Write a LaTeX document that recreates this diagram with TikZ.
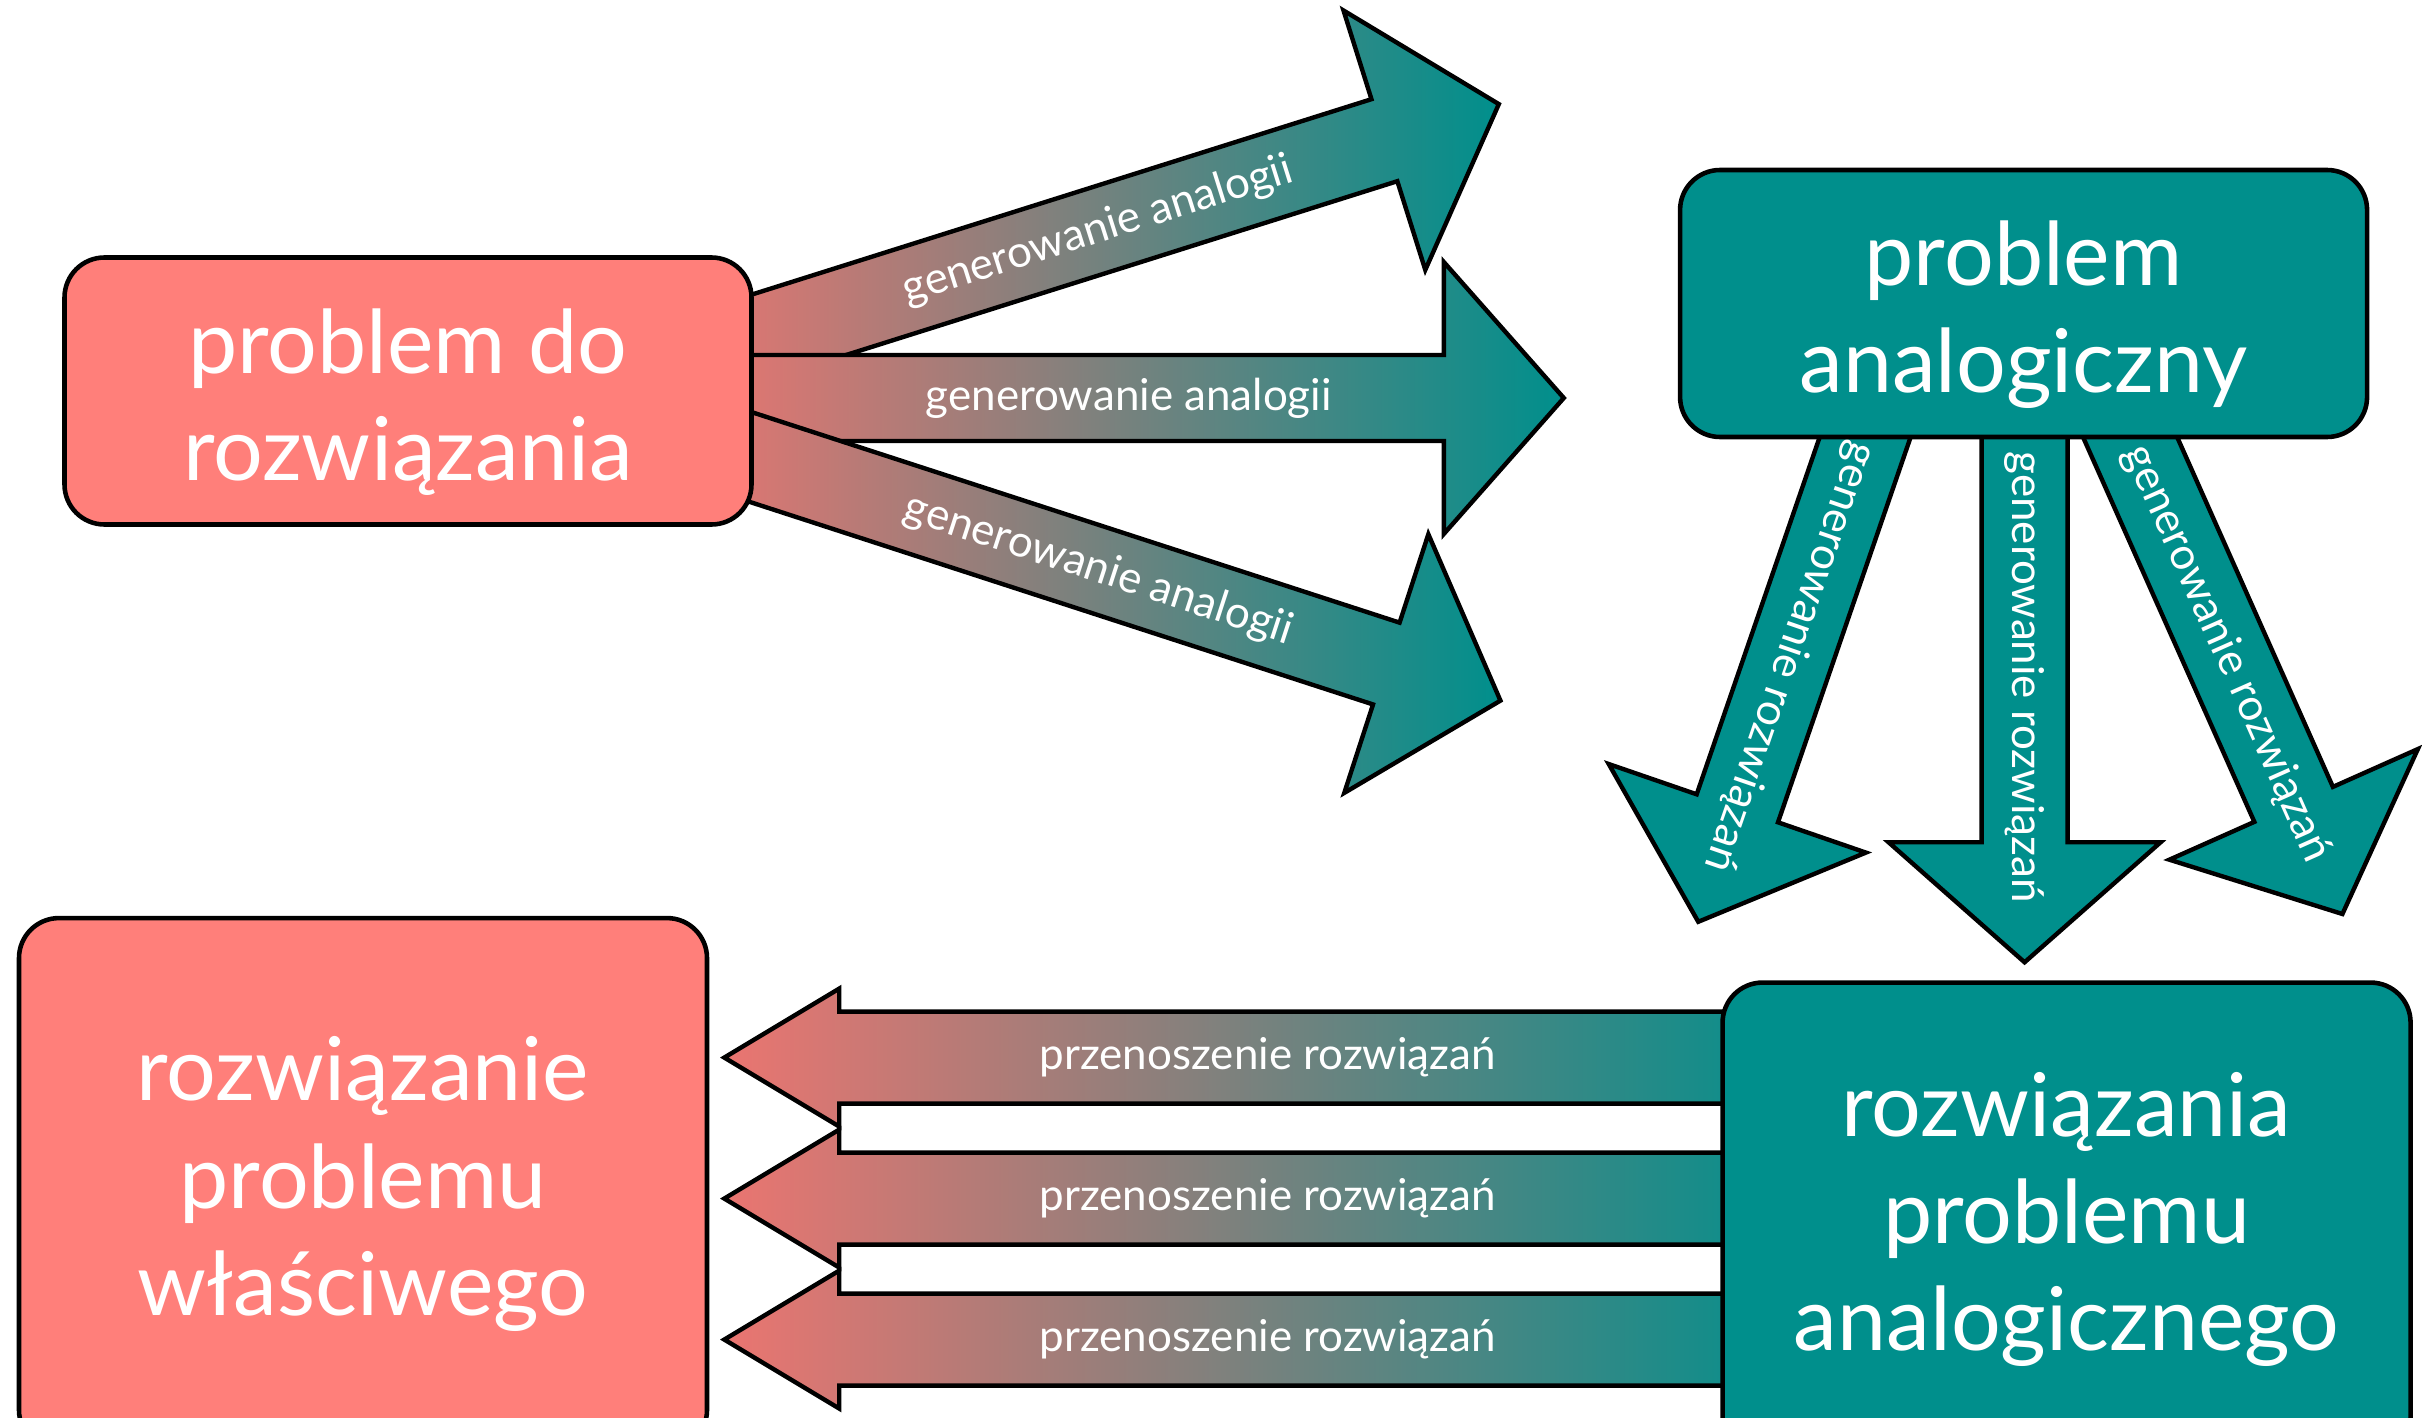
\documentclass[tikz,border=0pt]{standalone}
\usepackage{fontspec}
\setmainfont{Lato}
\usetikzlibrary{positioning, calc, backgrounds}

\definecolor{salmon}{RGB}{255,127,122}
\definecolor{morski}{RGB}{0,143,140}

% block arrow: [label options]{path style}{tail}{angle}{length}{label}
\newcommand{\bigarrow}[6][]{%
	\begin{scope}[shift={(#3)}, rotate=#4]
		\path[#2] (0,-\shafthalf) -- ({#5-\headlen},-\shafthalf) -- ({#5-\headlen},-\headhalf)
			-- (#5,0) -- ({#5-\headlen},\headhalf) -- ({#5-\headlen},\shafthalf) -- (0,\shafthalf) -- cycle;
		\node[arrow label, #1] at ({#5/2},0) {#6};
	\end{scope}}
\newcommand{\topstrut}{\rule{0pt}{0.87cm}}

\begin{document}
\begin{tikzpicture}[
		font=\fontsize{25}{30.5}\selectfont,
		box/.style={draw, line width=1.3pt, rounded corners=0.4cm, text=white, align=center, inner sep=0pt},
		red box/.style={box, fill=salmon},
		teal box/.style={box, fill=morski},
		fat arrow/.style={draw, line width=1.25pt, line join=miter},
		fade arrow/.style={fat arrow, left color=salmon!92!black, right color=morski},
		plain arrow/.style={fat arrow, fill=morski},
		arrow label/.style={text=white, font=\fontsize{12.5}{15}\selectfont, transform shape, inner sep=0pt}
		]
		
		\useasboundingbox (0,0) rectangle (24.22,-14.18);
		
		% ==========================================
		% 1. BOXES
		% ==========================================
		
		\node[red box, minimum width=6.87cm, minimum height=2.67cm] (problem) at (4.08,-3.91) {\topstrut problem do\\rozwiązania};
		\node[teal box, minimum width=6.87cm, minimum height=2.67cm, right=9.24cm of problem, yshift=0.875cm] (analog) {\topstrut problem\\analogiczny};
		\node[red box, minimum width=6.88cm, minimum height=5.32cm, below=3.89cm of problem, xshift=-0.45cm] (solution) {rozwiązanie\\problemu\\właściwego};
		\node[teal box, minimum width=6.88cm, minimum height=4.74cm, below=5.41cm of analog, xshift=0.43cm] (asolution) {rozwiązania\\problemu\\analogicznego};
		
		% tails of the arrows (hidden under the boxes)
		\coordinate (g1) at ($(problem.east)+(-0.57,0.34)$);
		\coordinate (g2) at ($(problem.east)+(-0.60,-0.07)$);
		\coordinate (g3) at ($(problem.east)+(-0.57,-0.485)$);
		\coordinate (r1) at ($(analog.south)+(-1.43,0.47)$);
		\coordinate (r2) at ($(analog.south)+(0.01,0.47)$);
		\coordinate (r3) at ($(analog.south)+(0.87,0.46)$);
		\coordinate (p1) at ($(asolution.west)+(0.91,1.62)$);
		\coordinate (p2) at ($(asolution.west)+(0.91,0.21)$);
		\coordinate (p3) at ($(asolution.west)+(0.91,-1.20)$);
		
		% ==========================================
		% 2. ARROWS
		% ==========================================
		
		\begin{scope}[on background layer]
			\def\shafthalf{0.43}\def\headhalf{1.36}\def\headlen{1.2}
			% generowanie analogii
			\bigarrow{fade arrow}{g1}{17.5}{8.41}{generowanie analogii}
			\bigarrow{fade arrow}{g2}{0}{8.70}{generowanie analogii}
			\bigarrow{fade arrow}{g3}{-18}{8.45}{generowanie analogii}
			% generowanie rozwiazan
			\bigarrow{plain arrow}{r1}{-109}{5.6}{generowanie rozwiązań}
			\bigarrow{plain arrow}{r2}{-90}{5.7}{generowanie rozwiązań}
			\bigarrow{plain arrow}{r3}{-66}{5.7}{generowanie rozwiązań}
			% przenoszenie
			\def\shafthalf{0.46}\def\headhalf{0.69}\def\headlen{1.15}
			\bigarrow[rotate=180]{fade arrow}{p1}{180}{10.87}{przenoszenie rozwiązań}
			\bigarrow[rotate=180]{fade arrow}{p2}{180}{10.87}{przenoszenie rozwiązań}
			\bigarrow[rotate=180]{fade arrow}{p3}{180}{10.87}{przenoszenie rozwiązań}
		\end{scope}
		
	\end{tikzpicture}
\end{document}
